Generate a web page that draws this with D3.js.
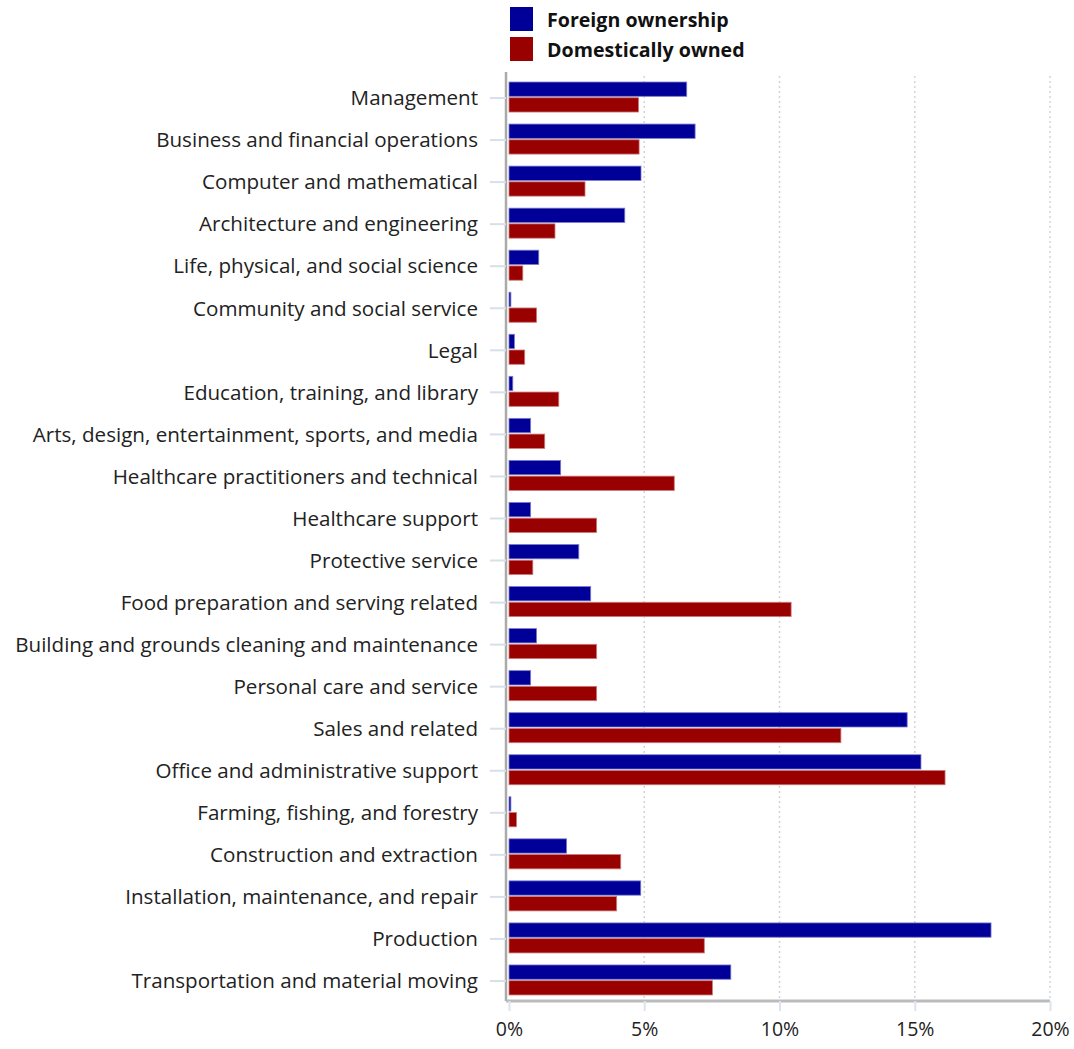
<!DOCTYPE html>
<html><head><meta charset="utf-8">
<script src="https://cdn.jsdelivr.net/npm/d3@7"></script>
<style>body{margin:0;background:#fff;} svg{display:block;}</style>
</head><body><svg id="c" width="1074" height="1049"></svg>
<script>
const categories = ["Management","Business and financial operations","Computer and mathematical","Architecture and engineering","Life, physical, and social science","Community and social service","Legal","Education, training, and library","Arts, design, entertainment, sports, and media","Healthcare practitioners and technical","Healthcare support","Protective service","Food preparation and serving related","Building and grounds cleaning and maintenance","Personal care and service","Sales and related","Office and administrative support","Farming, fishing, and forestry","Construction and extraction","Installation, maintenance, and repair","Production","Transportation and material moving"];
const foreignOwnership = [6.57,6.88,4.88,4.28,1.10,0.07,0.20,0.14,0.80,1.91,0.80,2.58,3.02,1.02,0.80,14.72,15.23,0.07,2.13,4.87,17.82,8.20];
const domesticallyOwned = [4.79,4.81,2.81,1.70,0.51,1.02,0.58,1.84,1.32,6.11,3.24,0.88,10.43,3.24,3.24,12.27,16.12,0.28,4.13,3.98,7.22,7.52];
const seriesNames = ["Foreign ownership","Domestically owned"];
const xTicks = [0,5,10,15,20];

(function(){
const colors = ["#000099","#990000"];
const strokes = ["#7a7acc","#cc7a7a"];
const font = "Open Sans, sans-serif";
const svg = d3.select("#c");
const L = 509, R = 1050, T = 76, B = 1001;
const x = d3.scaleLinear().domain([0,20]).range([L,R]);
const y = d3.scaleBand().domain(categories).range([T,B]).paddingInner(0.286).paddingOuter(0.143);
const sub = d3.scaleBand().domain([0,1]).range([0,y.bandwidth()]).paddingInner(0.09);

// gridlines
svg.append("g").selectAll("line").data(xTicks.slice(1)).join("line")
  .attr("x1",d=>x(d)).attr("x2",d=>x(d)).attr("y1",T).attr("y2",B)
  .attr("stroke","#d4d4d4").attr("stroke-width",1.5).attr("stroke-dasharray","2,3");

// bars
const series = [foreignOwnership, domesticallyOwned];
const g = svg.append("g");
series.forEach((vals,si)=>{
  g.selectAll(".b"+si).data(categories).join("rect").attr("class","b"+si)
   .attr("x",x(0)).attr("y",(d)=>y(d)+sub(si))
   .attr("width",(d,i)=>Math.max(0,x(vals[i])-x(0))).attr("height",sub.bandwidth())
   .attr("fill",colors[si]).attr("stroke",strokes[si]).attr("stroke-width",0.8);
});

// y axis
const ya = svg.append("g").attr("transform",`translate(${L-3},0)`)
  .call(d3.axisLeft(y).tickSize(16).tickPadding(12));
ya.select(".domain").attr("stroke","#aaaaaa").attr("stroke-width",2.5).attr("d",`M0,${T-4}V${B}`);
ya.selectAll(".tick line").attr("stroke","#d6e0ea").attr("stroke-width",2).attr("transform","translate(0,1)");
ya.selectAll(".tick text").attr("font-family",font).attr("font-size",20.6).attr("fill","#222").attr("dy","0.4em");

// x axis
const xa = svg.append("g").attr("transform",`translate(0,${B})`)
  .call(d3.axisBottom(x).tickValues(xTicks).tickFormat(d=>d+"%").tickSize(10).tickPadding(11));
xa.select(".domain").attr("stroke","#bbbbbb").attr("stroke-width",3).attr("d",`M${L-3},0H${R}`);
xa.selectAll(".tick line").attr("stroke","#dbe4ee").attr("stroke-width",2);
xa.selectAll(".tick text").attr("font-family",font).attr("font-size",19.5).attr("fill","#222");

// legend
const lg = svg.append("g");
seriesNames.forEach((n,i)=>{
  lg.append("rect").attr("x",510).attr("y",7+i*30).attr("width",23).attr("height",24).attr("fill",colors[i]);
  lg.append("text").attr("x",547).attr("y",20+i*30).attr("dy","0.36em").attr("font-family",font)
    .attr("font-size",19.6).attr("font-weight","bold").attr("fill","#111").text(n);
});
})();
</script></body></html>
